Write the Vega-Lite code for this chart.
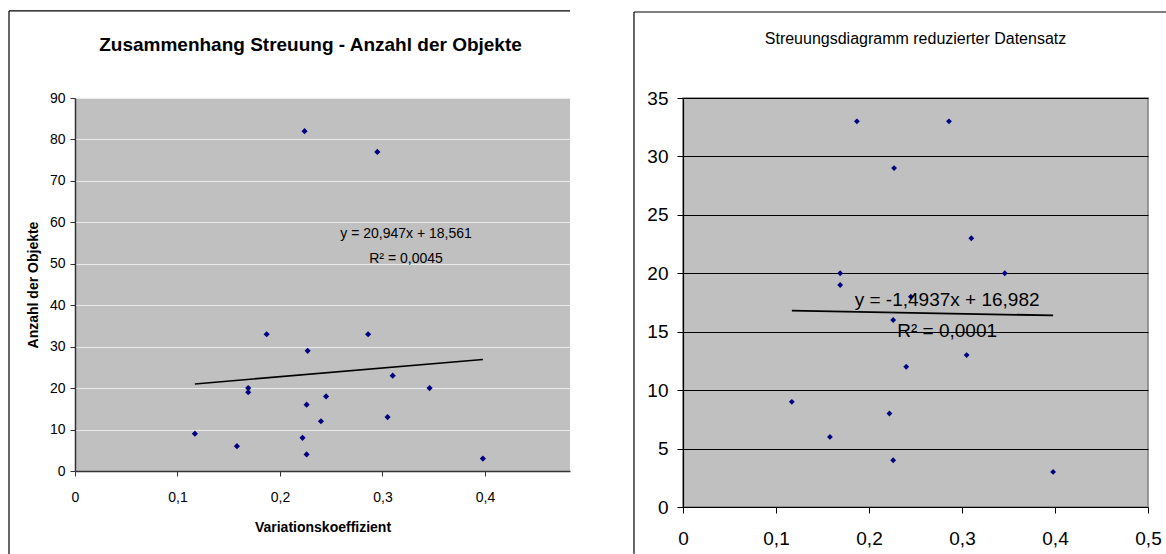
{
  "$schema": "https://vega.github.io/schema/vega-lite/v6.json",
  "background": "white",
  "padding": {"left": 8, "top": 10, "right": 0, "bottom": 0},
  "autosize": {"type": "pad"},
  "bounds": "flush",
  "spacing": 113,
  "config": {
    "font": "Liberation Sans",
    "locale": {"number": {"decimal": ",", "thousands": ".", "grouping": [3], "currency": ["", " €"]}},
    "axis": {"labelColor": "#000", "titleColor": "#000", "labelFont": "Liberation Sans", "titleFont": "Liberation Sans"}
  },
  "datasets": {
    "alle": [
      {"vk": 0.117, "anzahl": 9},
      {"vk": 0.158, "anzahl": 6},
      {"vk": 0.169, "anzahl": 20},
      {"vk": 0.169, "anzahl": 19},
      {"vk": 0.187, "anzahl": 33},
      {"vk": 0.222, "anzahl": 8},
      {"vk": 0.224, "anzahl": 82},
      {"vk": 0.226, "anzahl": 16},
      {"vk": 0.227, "anzahl": 29},
      {"vk": 0.226, "anzahl": 4},
      {"vk": 0.240, "anzahl": 12},
      {"vk": 0.245, "anzahl": 18},
      {"vk": 0.286, "anzahl": 33},
      {"vk": 0.295, "anzahl": 77},
      {"vk": 0.305, "anzahl": 13},
      {"vk": 0.310, "anzahl": 23},
      {"vk": 0.346, "anzahl": 20},
      {"vk": 0.398, "anzahl": 3}
    ],
    "reduziert": [
      {"vk": 0.117, "anzahl": 9},
      {"vk": 0.158, "anzahl": 6},
      {"vk": 0.169, "anzahl": 20},
      {"vk": 0.169, "anzahl": 19},
      {"vk": 0.187, "anzahl": 33},
      {"vk": 0.222, "anzahl": 8},
      {"vk": 0.226, "anzahl": 16},
      {"vk": 0.227, "anzahl": 29},
      {"vk": 0.226, "anzahl": 4},
      {"vk": 0.240, "anzahl": 12},
      {"vk": 0.245, "anzahl": 18},
      {"vk": 0.286, "anzahl": 33},
      {"vk": 0.305, "anzahl": 13},
      {"vk": 0.310, "anzahl": 23},
      {"vk": 0.346, "anzahl": 20},
      {"vk": 0.398, "anzahl": 3}
    ],
    "trend_alle": [{"vk": 0.117, "anzahl": 21.01}, {"vk": 0.398, "anzahl": 26.9}],
    "trend_reduziert": [{"vk": 0.117, "anzahl": 16.81}, {"vk": 0.398, "anzahl": 16.39}]
  },
  "hconcat": [
    {
      "width": 495,
      "height": 373,
      "view": {"fill": "#c0c0c0", "stroke": null},
      "title": {"text": "Zusammenhang Streuung - Anzahl der Objekte", "fontSize": 19, "fontWeight": "bold", "font": "Liberation Sans", "color": "#000", "anchor": "middle", "frame": "group", "offset": -45, "dx": -12},
      "layer": [
        {
          "data": {"name": "alle"},
          "mark": {"type": "point", "shape": "diamond", "filled": true, "size": 38, "color": "#000080", "opacity": 1},
          "encoding": {
            "x": {"field": "vk", "type": "quantitative", "scale": {"domain": [0, 0.483], "nice": false, "zero": false},
              "axis": {"values": [0, 0.1, 0.2, 0.3, 0.4], "format": "~g", "grid": false, "domainColor": "#333", "domainWidth": 1.5, "tickColor": "#333", "tickSize": 5, "labelPadding": 14, "labelFontSize": 14, "labelFlush": false, "title": "Variationskoeffizient", "titleFontSize": 14, "titleFontWeight": "bold", "titlePadding": 16}},
            "y": {"field": "anzahl", "type": "quantitative", "scale": {"domain": [0, 90], "nice": false, "zero": false},
              "axis": {"values": [0, 10, 20, 30, 40, 50, 60, 70, 80, 90], "grid": true, "gridColor": "#ececec", "gridWidth": 1, "domainColor": "#333", "domainWidth": 1.5, "tickColor": "#333", "tickSize": 5, "labelPadding": 5, "labelFontSize": 14, "title": "Anzahl der Objekte", "titleFontSize": 14, "titleFontWeight": "bold", "titlePadding": 9}}
          }
        },
        {
          "data": {"name": "trend_alle"},
          "mark": {"type": "line", "color": "#000", "strokeWidth": 1.6},
          "encoding": {"x": {"field": "vk", "type": "quantitative"}, "y": {"field": "anzahl", "type": "quantitative"}}
        },
        {
          "data": {"values": [{"label": "y = 20,947x + 18,561"}]},
          "mark": {"type": "text", "fontSize": 14, "color": "#000", "align": "center", "baseline": "middle"},
          "encoding": {"x": {"datum": 0.323}, "y": {"datum": 57.1}, "text": {"field": "label"}}
        },
        {
          "data": {"values": [{"label": "R² = 0,0045"}]},
          "mark": {"type": "text", "fontSize": 14, "color": "#000", "align": "center", "baseline": "middle"},
          "encoding": {"x": {"datum": 0.323}, "y": {"datum": 51.1}, "text": {"field": "label"}}
        },
        {
          "data": {"values": [{"rahmen": "oben"}]},
          "mark": {"type": "rule", "color": "#000", "strokeWidth": 1.2},
          "encoding": {"x": {"datum": -0.0644}, "x2": {"datum": 0.483}, "y": {"datum": 111}}
        },
        {
          "data": {"values": [{"rahmen": "links"}]},
          "mark": {"type": "rule", "color": "#000", "strokeWidth": 1.2},
          "encoding": {"x": {"datum": -0.0644}, "y": {"datum": 111}, "y2": {"datum": -20}}
        }
      ]
    },
    {
      "width": 465,
      "height": 409,
      "view": {"fill": "#c0c0c0", "stroke": "#7f7f7f", "strokeWidth": 1.5},
      "title": {"text": "Streuungsdiagramm reduzierter Datensatz", "fontSize": 16, "fontWeight": "normal", "font": "Liberation Sans", "color": "#000", "anchor": "middle", "frame": "group", "offset": -36},
      "layer": [
        {
          "data": {"name": "reduziert"},
          "mark": {"type": "point", "shape": "diamond", "filled": true, "size": 34, "color": "#000080", "opacity": 1},
          "encoding": {
            "x": {"field": "vk", "type": "quantitative", "scale": {"domain": [0, 0.5], "nice": false, "zero": false},
              "axis": {"values": [0, 0.1, 0.2, 0.3, 0.4, 0.5], "format": "~g", "grid": false, "domainColor": "#000", "domainWidth": 1.2, "tickColor": "#000", "tickSize": 6, "labelPadding": 16, "labelFontSize": 19, "labelFlush": false, "title": null}},
            "y": {"field": "anzahl", "type": "quantitative", "scale": {"domain": [0, 35], "nice": false, "zero": false},
              "axis": {"values": [0, 5, 10, 15, 20, 25, 30, 35], "grid": true, "gridColor": "#000", "gridWidth": 1, "domainColor": "#000", "domainWidth": 1.2, "tickColor": "#000", "tickSize": 6, "labelPadding": 9, "labelFontSize": 19, "title": null}}
          }
        },
        {
          "data": {"name": "trend_reduziert"},
          "mark": {"type": "line", "color": "#000", "strokeWidth": 1.8},
          "encoding": {"x": {"field": "vk", "type": "quantitative"}, "y": {"field": "anzahl", "type": "quantitative"}}
        },
        {
          "data": {"values": [{"label": "y = -1,4937x + 16,982"}]},
          "mark": {"type": "text", "fontSize": 19, "color": "#000", "align": "center", "baseline": "middle"},
          "encoding": {"x": {"datum": 0.284}, "y": {"datum": 17.7}, "text": {"field": "label"}}
        },
        {
          "data": {"values": [{"label": "R² = 0,0001"}]},
          "mark": {"type": "text", "fontSize": 19, "color": "#000", "align": "center", "baseline": "middle"},
          "encoding": {"x": {"datum": 0.284}, "y": {"datum": 15.1}, "text": {"field": "label"}}
        },
        {
          "data": {"values": [{"rahmen": "oben"}]},
          "mark": {"type": "rule", "color": "#000", "strokeWidth": 1.2},
          "encoding": {"x": {"datum": -0.0527}, "x2": {"datum": 0.52}, "y": {"datum": 42.36}}
        },
        {
          "data": {"values": [{"rahmen": "links"}]},
          "mark": {"type": "rule", "color": "#000", "strokeWidth": 1.2},
          "encoding": {"x": {"datum": -0.0527}, "y": {"datum": 42.36}, "y2": {"datum": -4}}
        }
      ]
    }
  ]
}
